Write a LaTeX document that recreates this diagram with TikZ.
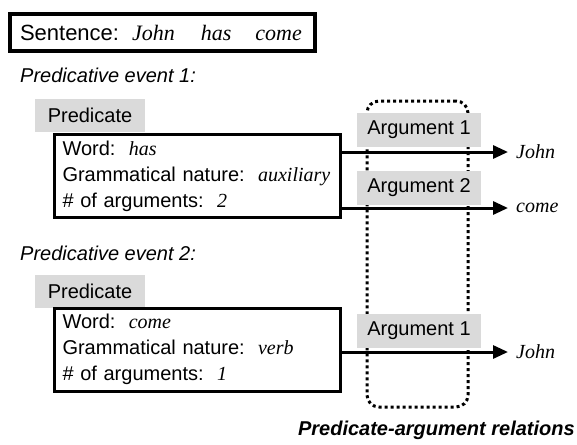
\documentclass[tikz,border=0pt]{standalone}
\usepackage{fontspec}
\setmainfont{Liberation Sans}
\newfontfamily\tnr{Liberation Serif}
\usetikzlibrary{arrows.meta}
% example words are set in a serif italic
\newcommand\ex[1]{{\tnr\itshape #1}}
\definecolor{shade}{RGB}{218,218,218}

\begin{document}
\begin{tikzpicture}[x=1pt,y=-1pt,
  body/.style={font=\fontsize{20}{24}\selectfont},
  heading/.style={body, inner sep=0pt, anchor=west, font=\fontsize{20}{24}\selectfont\itshape},
  tag/.style={body, fill=shade, minimum width=110pt, minimum height=33pt, inner sep=0pt},
  argtag/.style={tag, minimum width=124pt, minimum height=34pt},
  infobox/.style={draw, line width=3pt, text width=270pt, inner xsep=8pt,
    minimum height=83pt, align=left, font=\fontsize{20}{26}\selectfont},
  target/.style={body, anchor=west, inner xsep=8pt, inner ysep=0pt},
  link/.style={line width=3pt, -{Triangle[length=15pt,width=13pt]}},
  group/.style={draw, line width=3pt, dash pattern=on 3pt off 3pt,
    rounded corners=12pt, minimum width=101pt, minimum height=306pt, inner sep=0pt}
]
\useasboundingbox (0,0) rectangle (577,444);

% the sentence
\node[draw, line width=4pt, minimum width=305pt, minimum height=37pt,
  text width=285pt, inner xsep=10pt, align=left,
  font=\fontsize{22}{26}\selectfont] (sent) at (162.5,32.5)
  {Sentence:\hspace{13pt}\ex{John}\hspace{26pt}\ex{has}\hspace{24pt}\ex{come}};

% dotted frame grouping the argument slots
\node[group] (slots) at (417.5,254) {};

% predicative event 1
\node[heading] (ev1) at (20,75) {Predicative event 1:};
\node[tag] (p1) at (90,115.5) {Predicate};
\node[infobox] (b1) at (197.5,176)
  {Word:~~\ex{has}\\
   Grammatical nature:~~\ex{auxiliary}\\
   \#~of arguments:~~\ex{2}};
\node[argtag] (a11) at (419,130) {Argument 1};
\node[argtag] (a12) at (419,188) {Argument 2};
\node[target] (t11) at (508,152) {\ex{John}};
\node[target] (t12) at (508,208) {\ex{come}};
\draw[link] ([yshift=24pt]b1.east) -- (t11.west);
\draw[link] ([yshift=-32pt]b1.east) -- (t12.west);

% predicative event 2
\node[heading] (ev2) at (20,253) {Predicative event 2:};
\node[tag] (p2) at (90,291) {Predicate};
\node[infobox] (b2) at (197.5,349.5)
  {Word:~~\ex{come}\\
   Grammatical nature:~~\ex{verb}\\
   \#~of arguments:~~\ex{1}};
\node[argtag] (a21) at (419,330.5) {Argument 1};
\node[target] (t21) at (508,352) {\ex{John}};
\draw[link] ([yshift=-2.5pt]b2.east) -- (t21.west);

% caption of the frame
\node[anchor=east, inner sep=0pt, font=\fontsize{20}{24}\selectfont\bfseries\itshape]
  (cap) at (575,430) {Predicate-argument relations};
\end{tikzpicture}
\end{document}
